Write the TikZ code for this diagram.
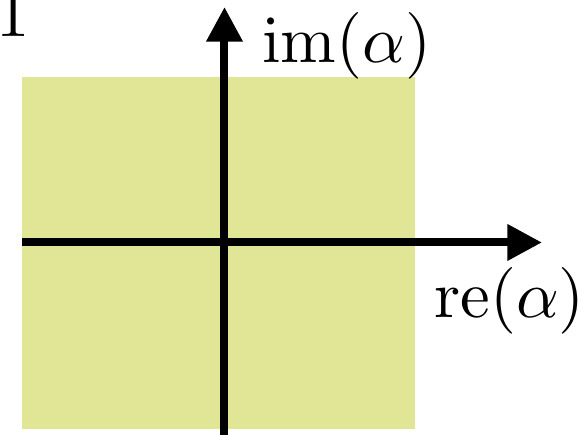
\documentclass[tikz,border=0pt]{standalone}
\usetikzlibrary{arrows.meta}
\definecolor{plane}{RGB}{225,229,150}
\tikzset{
  axis/.style={line width=1.2pt,-{Triangle[length=5.2pt,width=5.2pt]}},
  lab/.style={inner sep=0pt,anchor=base west,font=\fontsize{10}{12}\selectfont}
}
\begin{document}
\begin{tikzpicture}[x=0.15pt,y=-0.15pt]
\useasboundingbox (0,0) rectangle (585,435);
\fill[plane] (22,77) rectangle (415,429);
\coordinate (vb) at (224.5,445);
\coordinate (vt) at (224.5,7);
\coordinate (hl) at (22,242.5);
\coordinate (hr) at (542,242.5);
\draw[axis] (vb) -- (vt);
\draw[axis] (hl) -- (hr);
\node[lab] (im) at (261,63) {$\mathrm{im}(\alpha)$};
\node[lab] (re) at (433,318) {$\mathrm{re}(\alpha)$};
\node[lab] (one) at (-5,37) {1};
\end{tikzpicture}
\end{document}
